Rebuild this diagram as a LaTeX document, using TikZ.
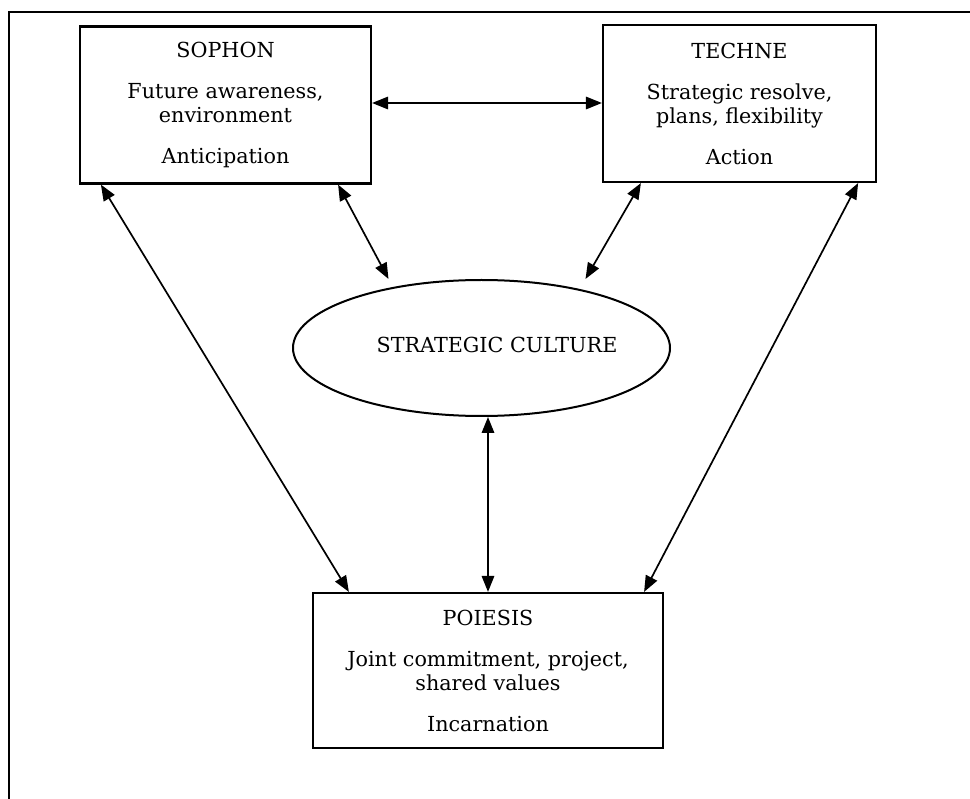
\documentclass[tikz,border=0pt]{standalone}
\usepackage{fontspec}
\setmainfont{DejaVu Serif}
\usetikzlibrary{arrows.meta,shapes.geometric}
\begin{document}
\begin{tikzpicture}[x=1pt,y=-1pt,
  txt/.style={font=\fontsize{20.7}{24}\selectfont, align=center},
  box/.style={draw, line width=2.2pt, inner sep=0pt, txt},
  link/.style={line width=1.7pt, {Triangle[length=16pt,width=12.5pt]}-{Triangle[length=16pt,width=12.5pt]}}]
  \useasboundingbox (0,0) rectangle (970,799);
  % partial outer frame
  \draw[line width=2pt] (9,799) -- (9,12) -- (970,12);

  \node[box, minimum width=291pt, minimum height=157pt] (sophon) at (225.5,105)
    {SOPHON\\[17pt]Future awareness,\\environment\\[17pt]Anticipation};
  \node[box, minimum width=273pt, minimum height=157pt] (techne) at (739.5,103.5)
    {TECHNE\\[17pt]Strategic resolve,\\plans, flexibility\\[17pt]Action};
  \node[box, minimum width=350pt, minimum height=155pt] (poiesis) at (488,670.5)
    {POIESIS\\[17pt]Joint commitment, project,\\shared values\\[17pt]Incarnation};
  \node[draw, ellipse, line width=2pt, minimum width=377pt, minimum height=136pt] (culture) at (481.5,348) {};
  \node[txt] (culturetext) at (497,345) {STRATEGIC CULTURE};

  \draw[link] ([yshift=2pt]sophon.east) -- ([yshift=2pt]sophon.east -| techne.west);
  \draw[link] ([xshift=22pt]sophon.south west) -- ([xshift=37pt]poiesis.north west);
  \draw[link] ([xshift=-34pt]sophon.south east) -- ([xshift=-93pt]culture.north);
  \draw[link] ([xshift=39pt]techne.south west) -- ([xshift=104pt]culture.north);
  \draw[link] ([xshift=-19pt]techne.south east) -- ([xshift=-20pt]poiesis.north east);
  \draw[link] (poiesis.north |- culture.south) -- (poiesis.north);
\end{tikzpicture}
\end{document}
